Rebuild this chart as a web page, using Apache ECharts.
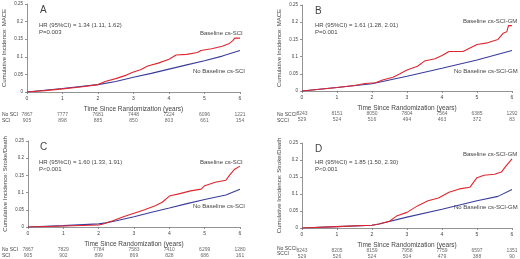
<!DOCTYPE html>
<html>
<head>
<meta charset="utf-8">
<script src="https://cdn.jsdelivr.net/npm/echarts@6/dist/echarts.min.js"></script>
<style>
html, body { margin: 0; padding: 0; background: #fff; }
#main { width: 520px; height: 259px; }
</style>
</head>
<body>
<div id="main"></div>
<script>
// 坐标轴刻度
var xTicks = [0, 1, 2, 3, 4, 5, 6];
var yTicks = [0, 0.05, 0.1, 0.15, 0.2, 0.25];

// A: MACE, cs-SCI
var aBaseline = [[0,0],[0.5,0.004],[1,0.009],[1.5,0.014],[2,0.021],[2.2,0.03],[2.5,0.038],[2.8,0.048],[3,0.057],[3.2,0.063],[3.4,0.074],[3.7,0.082],[4,0.093],[4.2,0.105],[4.5,0.107],[4.8,0.112],[4.9,0.118],[5.2,0.123],[5.5,0.13],[5.7,0.138],[5.8,0.146],[5.85,0.153],[6,0.153]];
var aNoBaseline = [[0,0],[1,0.01],[2,0.021],[2.5,0.03],[3,0.042],[3.5,0.053],[4,0.065],[4.5,0.077],[5,0.089],[5.5,0.102],[6,0.118]];
var aRiskNo = [7867, 7777, 7681, 7448, 7224, 6096, 1221];
var aRiskYes = [905, 898, 885, 850, 803, 661, 154];

// B: MACE, cs-SCI-GM
var bBaseline = [[0,0],[0.5,0.005],[1,0.01],[1.5,0.016],[1.8,0.022],[2.1,0.024],[2.3,0.032],[2.6,0.04],[2.8,0.05],[3,0.061],[3.3,0.072],[3.5,0.087],[3.8,0.094],[4,0.103],[4.2,0.115],[4.6,0.115],[4.8,0.125],[5,0.135],[5.3,0.14],[5.6,0.15],[5.75,0.168],[5.85,0.172],[5.9,0.19],[6,0.19]];
var bNoBaseline = [[0,0],[1,0.01],[2,0.021],[3,0.043],[4,0.066],[5,0.09],[6,0.118]];
var bRiskNo = [8243, 8151, 8050, 7804, 7564, 6385, 1292];
var bRiskYes = [529, 524, 516, 494, 463, 372, 83];

// C: Stroke/Death, cs-SCI
var cBaseline = [[0,0],[1,0.003],[2,0.006],[2.1,0.008],[2.4,0.018],[2.7,0.03],[3,0.04],[3.3,0.05],[3.6,0.062],[3.8,0.072],[4,0.09],[4.3,0.097],[4.6,0.105],[4.9,0.11],[5,0.12],[5.3,0.13],[5.6,0.136],[5.7,0.15],[5.85,0.168],[6,0.177]];
var cNoBaseline = [[0,0],[1,0.004],[2,0.009],[2.2,0.012],[2.5,0.018],[3,0.03],[3.5,0.043],[4,0.055],[4.5,0.068],[5,0.08],[5.6,0.093],[6,0.11]];
var cRiskNo = [7867, 7829, 7784, 7583, 7410, 6299, 1280];
var cRiskYes = [905, 902, 899, 869, 828, 686, 161];

// D: Stroke/Death, cs-SCI-GM
var dBaseline = [[0,0],[1,0.004],[2,0.008],[2.2,0.012],[2.5,0.02],[2.7,0.035],[3,0.046],[3.3,0.065],[3.6,0.08],[3.9,0.088],[4.2,0.105],[4.5,0.115],[4.8,0.12],[5,0.148],[5.2,0.155],[5.5,0.158],[5.7,0.165],[5.85,0.185],[6,0.203]];
var dNoBaseline = [[0,0],[1,0.004],[2,0.008],[2.2,0.012],[3,0.032],[4,0.055],[5,0.08],[5.6,0.093],[6,0.113]];
var dRiskNo = [8243, 8205, 8159, 7958, 7759, 6597, 1351];
var dRiskYes = [529, 526, 524, 504, 479, 388, 90];

var RED = '#e0262d';
var BLUE = '#3a3c9c';
var FONT = 'Liberation Sans';
var TXT = '#444';

// 四个面板的布局
var panels = [
	{ grid: { left: 27, top: 4, width: 213, height: 88 }, yName: 'Cumulative Incidence: MACE',
	  base: aBaseline, noBase: aNoBaseline, riskNo: aRiskNo, riskYes: aRiskYes },
	{ grid: { left: 302, top: 5, width: 210, height: 86 }, yName: 'Cumulative Incidence: MACE',
	  base: bBaseline, noBase: bNoBaseline, riskNo: bRiskNo, riskYes: bRiskYes },
	{ grid: { left: 28, top: 141, width: 212, height: 86 }, yName: 'Cumulative Incidence: Stroke/Death',
	  base: cBaseline, noBase: cNoBaseline, riskNo: cRiskNo, riskYes: cRiskYes },
	{ grid: { left: 302, top: 143, width: 210, height: 85 }, yName: 'Cumulative Incidence: Stroke/Death',
	  base: dBaseline, noBase: dNoBaseline, riskNo: dRiskNo, riskYes: dRiskYes }
];

var grids = [], xAxes = [], yAxes = [], series = [];

function riskData(arr) {
	var d = [];
	for (var i = 0; i < xTicks.length; i++) {
		d.push([xTicks[i], 0, arr[i]]);
	}
	return d;
}

function riskSeries(idx, arr, off) {
	return {
		type: 'scatter',
		xAxisIndex: idx,
		yAxisIndex: idx,
		data: riskData(arr),
		symbolSize: 0,
		clip: false,
		silent: true,
		label: {
			show: true,
			position: 'inside',
			offset: [0, off],
			fontFamily: FONT,
			fontSize: 5,
			color: TXT,
			formatter: function(p) { return p.value[2]; }
		}
	};
}

for (var i = 0; i < panels.length; i++) {
	var p = panels[i];
	grids.push(p.grid);
	xAxes.push({
		type: 'value', gridIndex: i, min: 0, max: 6, interval: 1,
		name: 'Time Since Randomization (years)',
		nameLocation: 'middle', nameGap: 14,
		nameTextStyle: { fontFamily: FONT, fontSize: 6.5, color: TXT },
		axisLine: { lineStyle: { color: '#777', width: 0.8 } },
		axisTick: { length: 2, lineStyle: { color: '#777', width: 0.8 } },
		axisLabel: { fontFamily: FONT, fontSize: 5, color: TXT, margin: 4 },
		splitLine: { show: false }
	});
	yAxes.push({
		type: 'value', gridIndex: i, min: 0, max: 0.25, interval: 0.05,
		name: p.yName,
		nameLocation: 'middle', nameGap: 20,
		nameTextStyle: { fontFamily: FONT, fontSize: 6, color: TXT },
		axisLine: { show: true, lineStyle: { color: '#777', width: 0.8 } },
		axisTick: { show: true, length: 2, lineStyle: { color: '#777', width: 0.8 } },
		axisLabel: { fontFamily: FONT, fontSize: 4.5, color: TXT, margin: 4,
			formatter: function(v) { return String(+v.toFixed(2)); } },
		splitLine: { show: false }
	});
	// 无基线曲线
	series.push({
		type: 'line', xAxisIndex: i, yAxisIndex: i, data: p.noBase,
		showSymbol: false, silent: true,
		lineStyle: { color: BLUE, width: 1.1 }
	});
	// 基线曲线
	series.push({
		type: 'line', xAxisIndex: i, yAxisIndex: i, data: p.base,
		showSymbol: false, silent: true,
		lineStyle: { color: RED, width: 1.1 }
	});
	series.push(riskSeries(i, p.riskNo, 23));
	series.push(riskSeries(i, p.riskYes, 29));
}

function txt(x, y, s, size, align) {
	return {
		type: 'text', left: x, top: y, silent: true,
		style: { text: s, fontFamily: FONT, fontSize: size, fill: TXT, textAlign: align || 'left' }
	};
}

var graphics = [
	// A
	txt(40, 5, 'A', 10),
	txt(39, 22, 'HR (95%CI) = 1.34 (1.11, 1.62)', 6),
	txt(39, 29, 'P=0.003', 6),
	txt(200, 30, 'Baseline cs-SCI', 6),
	txt(193, 68, 'No Baseline cs-SCI', 6),
	txt(2, 112, 'No SCI', 5),
	txt(2, 118, 'SCI', 5),
	// B
	txt(315, 6, 'B', 10),
	txt(315, 22, 'HR (95%CI) = 1.61 (1.28, 2.01)', 6),
	txt(315, 29, 'P=0.001', 6),
	txt(463, 18, 'Baseline cs-SCI-GM', 6),
	txt(454, 68, 'No Baseline cs-SCI-GM', 6),
	txt(277, 112, 'No SCCI', 5),
	txt(277, 118, 'SCCI', 5),
	// C
	txt(40, 142, 'C', 10),
	txt(39, 159, 'HR (95%CI) = 1.60 (1.33, 1.91)', 6),
	txt(39, 166, 'P<0.001', 6),
	txt(200, 159, 'Baseline cs-SCI', 6),
	txt(193, 203, 'No Baseline cs-SCI', 6),
	txt(2, 247, 'No SCI', 5),
	txt(2, 253, 'SCI', 5),
	// D
	txt(315, 144, 'D', 10),
	txt(315, 159, 'HR (95%CI) = 1.85 (1.50, 2.30)', 6),
	txt(315, 166, 'P<0.001', 6),
	txt(463, 151, 'Baseline cs-SCI-GM', 6),
	txt(454, 204, 'No Baseline cs-SCI-GM', 6),
	txt(277, 246, 'No SCCI', 5),
	txt(277, 251, 'SCCI', 5)
];

var myChart = echarts.init(document.getElementById('main'));
myChart.setOption({
	animation: false,
	backgroundColor: '#fff',
	grid: grids,
	xAxis: xAxes,
	yAxis: yAxes,
	series: series,
	graphic: graphics
});
</script>
</body>
</html>
